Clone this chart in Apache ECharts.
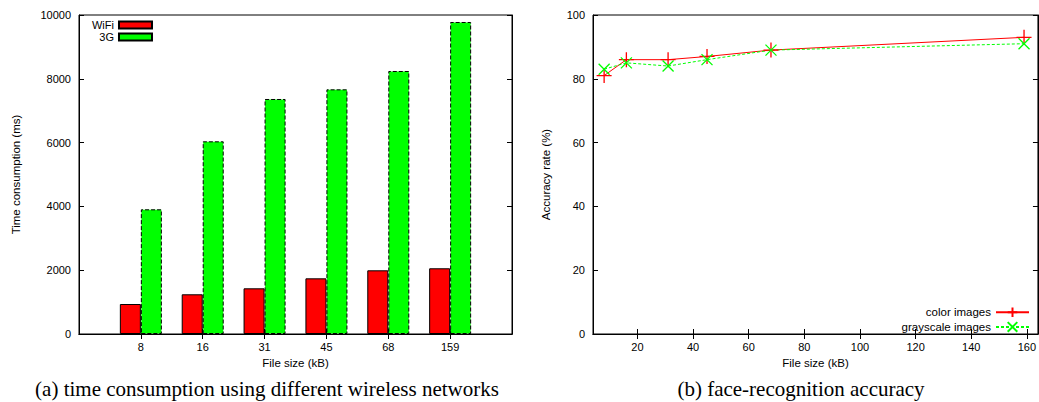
<!DOCTYPE html>
<html><head><meta charset="utf-8">
<script src="https://cdn.jsdelivr.net/npm/echarts@6/dist/echarts.min.js"></script>
<style>html,body{margin:0;padding:0;background:#fff}#c{width:1039px;height:402px}</style>
</head><body><div id="c"></div>
<script>
// ---- data ----
const fileSizes = ['8', '16', '31', '45', '68', '159'];
const wifiTimes = [940, 1245, 1432, 1745, 1996, 2060];
const g3Times = [3909, 6040, 7367, 7670, 8245, 9781];
const accSizes = [8, 16, 31, 45, 68, 159];
const colorAcc = [81, 86, 86, 87, 89, 93];
const grayAcc = [83, 85, 84, 86, 89, 91];
const accXTicks = [20, 40, 60, 80, 100, 120, 140, 160];

// padded categories so that groups sit at 1..6 of a 0..7 range
const cats = [''].concat(fileSizes, ['']);
const pad = arr => ['-'].concat(arr, ['-']);
const isReal = i => i > 0 && i < cats.length - 1;

const FONT = 'Liberation Sans';
const lbl = {fontFamily: FONT, fontSize: 11, color: '#000'};
const line = {lineStyle: {color: '#000', width: 1}};
const tick = {show: true, inside: true, length: 5, lineStyle: {color: '#000', width: 1}};
const plain = v => String(v);

const chart = echarts.init(document.getElementById('c'), null, {renderer: 'svg'});
chart.setOption({
  animation: false,
  backgroundColor: '#fff',
  grid: [
    {left: 79, right: 527, top: 15, bottom: 68, show: true, borderColor: '#000', borderWidth: 1},
    {left: 593, right: -3, top: 15, bottom: 68, show: true, borderColor: '#000', borderWidth: 1}
  ],
  xAxis: [
    {type: 'category', gridIndex: 0, data: cats, boundaryGap: false,
     axisLine: line, axisTick: Object.assign({}, tick, {interval: (i) => isReal(i)}),
     axisLabel: Object.assign({}, lbl, {interval: 0, margin: 7}),
     name: 'File size (kB)', nameLocation: 'middle', nameGap: 23,
     nameTextStyle: {fontFamily: FONT, fontSize: 11.5, color: '#000'}},
    {type: 'category', gridIndex: 0, data: cats, boundaryGap: false, position: 'top',
     axisLine: line, axisTick: Object.assign({}, tick, {interval: (i) => isReal(i)}),
     axisLabel: {show: false}},
    {type: 'value', gridIndex: 1, min: 4, max: 164,
     axisLine: line, axisTick: Object.assign({}, tick, {customValues: accXTicks}),
     axisLabel: Object.assign({}, lbl, {customValues: accXTicks, margin: 7, formatter: plain}), splitLine: {show: false},
     name: 'File size (kB)', nameLocation: 'middle', nameGap: 23,
     nameTextStyle: {fontFamily: FONT, fontSize: 11.5, color: '#000'}},
    {type: 'value', gridIndex: 1, min: 4, max: 164, position: 'top',
     axisLine: line, axisTick: Object.assign({}, tick, {customValues: accXTicks}),
     axisLabel: {show: false}, splitLine: {show: false}}
  ],
  yAxis: [
    {type: 'value', gridIndex: 0, min: 0, max: 10000, interval: 2000,
     axisLine: Object.assign({show: true}, line), axisTick: tick,
     axisLabel: Object.assign({}, lbl, {margin: 8, formatter: plain}), splitLine: {show: false},
     name: 'Time consumption (ms)', nameLocation: 'middle', nameGap: 57,
     nameTextStyle: {fontFamily: FONT, fontSize: 11.5, color: '#000'}},
    {type: 'value', gridIndex: 0, min: 0, max: 10000, interval: 2000, position: 'right',
     axisLine: Object.assign({show: true}, line), axisTick: tick,
     axisLabel: {show: false}, splitLine: {show: false}},
    {type: 'value', gridIndex: 1, min: 0, max: 100, interval: 20,
     axisLine: Object.assign({show: true}, line), axisTick: tick,
     axisLabel: Object.assign({}, lbl, {margin: 8, formatter: plain}), splitLine: {show: false},
     name: 'Accuracy rate (%)', nameLocation: 'middle', nameGap: 41,
     nameTextStyle: {fontFamily: FONT, fontSize: 11.5, color: '#000'}},
    {type: 'value', gridIndex: 1, min: 0, max: 100, interval: 20, position: 'right',
     axisLine: Object.assign({show: true}, line), axisTick: tick,
     axisLabel: {show: false}, splitLine: {show: false}}
  ],
  legend: [
    {data: [{name: 'WiFi', icon: 'rect'}, {name: '3G', icon: 'rect'}],
     orient: 'vertical', align: 'right', left: 92, top: 19,
     padding: 0, itemGap: 0, itemWidth: 33, itemHeight: 7,
     textStyle: {fontFamily: FONT, fontSize: 11, color: '#000', lineHeight: 12}},
    {data: ['color images', 'grayscale images'], orient: 'vertical', align: 'right', right: 9, top: 305,
     padding: 0, itemGap: 0, itemWidth: 33, itemHeight: 12,
     textStyle: {fontFamily: FONT, fontSize: 11.5, color: '#000', lineHeight: 12}}
  ],
  series: [
    {name: 'WiFi', type: 'bar', xAxisIndex: 0, yAxisIndex: 0, data: pad(wifiTimes),
     barWidth: 21, barGap: '0%',
     itemStyle: {color: '#ff0000', borderColor: '#000', borderWidth: 1}},
    {name: '3G', type: 'bar', xAxisIndex: 0, yAxisIndex: 0, data: pad(g3Times),
     barWidth: 21, barGap: '0%',
     itemStyle: {color: '#00ff00', borderColor: '#000', borderWidth: 1, borderType: 'dashed'}},
    {name: 'color images', type: 'line', xAxisIndex: 2, yAxisIndex: 2,
     data: accSizes.map((x, i) => [x, colorAcc[i]]),
     symbol: 'path://M5,0 L5,10 M0,5 L10,5', symbolSize: 15,
     lineStyle: {color: '#ff0000', width: 1},
     itemStyle: {color: 'none', borderColor: '#ff0000', borderWidth: 1.3}},
    {name: 'grayscale images', type: 'line', xAxisIndex: 2, yAxisIndex: 2,
     data: accSizes.map((x, i) => [x, grayAcc[i]]),
     symbol: 'path://M0,0 L10,10 M10,0 L0,10', symbolSize: 11,
     lineStyle: {color: '#00ff00', width: 1, type: [3, 2]},
     itemStyle: {color: 'none', borderColor: '#00ff00', borderWidth: 1.3}}
  ],
  graphic: [
    {type: 'text', x: 267, y: 389, style: {text: '(a) time consumption using different wireless networks',
      fill: '#000', font: '21px "Liberation Serif"', textAlign: 'center', textVerticalAlign: 'middle'}},
    {type: 'text', x: 801, y: 389, style: {text: '(b) face-recognition accuracy',
      fill: '#000', font: '21px "Liberation Serif"', textAlign: 'center', textVerticalAlign: 'middle'}}
  ]
});
</script></body></html>
